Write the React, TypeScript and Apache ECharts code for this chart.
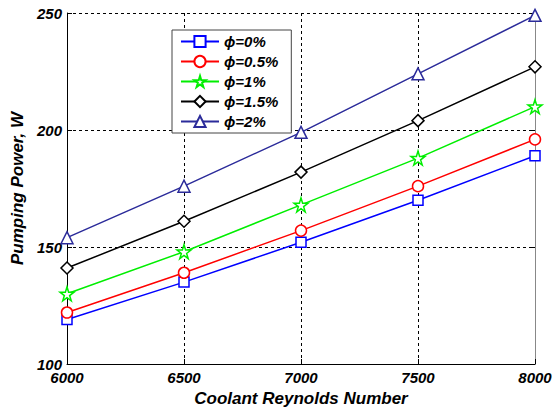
import React, { useEffect, useRef } from "react";
import * as echarts from "echarts";

const reynolds = [6000, 6500, 7000, 7500, 8000];
const phi0 = [119, 135, 152, 170, 189];
const phi05 = [122, 139, 157, 176, 196];
const phi1 = [130, 148, 168, 188, 210];
const phi15 = [141, 161, 182, 204, 227];
const phi2 = [154, 176, 199, 224, 249];
const seriesNames = ["ϕ=0%", "ϕ=0.5%", "ϕ=1%", "ϕ=1.5%", "ϕ=2%"];
const yTicks = { min: 100, max: 250, interval: 50 };
const xTicks = { min: 6000, max: 8000, interval: 500 };

const STAR =
  "path://M50,0 L61,35 L98,35 L68,57 L79,91 L50,70 L21,91 L32,57 L2,35 L39,35 Z";

export default function App() {
  const ref = useRef<HTMLDivElement>(null);
  useEffect(() => {
    if (!ref.current) return;
    const chart = echarts.init(ref.current, undefined, { renderer: "svg" });
    const font = {
      fontFamily: "Liberation Sans, Arial, sans-serif",
      fontWeight: "bold" as const,
      fontStyle: "italic" as const,
      color: "#000",
    };
    const colors = ["#0000ff", "#ff0000", "#00ee00", "#000000", "#2b2b9a"];
    const symbols = ["rect", "circle", STAR, "diamond", "triangle"];
    const sizes = [10, 11, 14, 12, 12];
    const datas = [phi0, phi05, phi1, phi15, phi2];
    chart.setOption({
      animation: false,
      backgroundColor: "#fff",
      grid: { left: 67, right: 18, top: 13, bottom: 43, outerBoundsMode: "none" },
      legend: {
        left: 172,
        top: 30,
        orient: "vertical",
        itemWidth: 38,
        itemHeight: 14,
        itemGap: 5,
        padding: [4, 13, 4, 8],
        backgroundColor: "#fff",
        borderColor: "#444",
        borderWidth: 1,
        borderRadius: 0,
        textStyle: { ...font, fontSize: 15 },
        data: seriesNames,
      },
      xAxis: {
        type: "value",
        min: xTicks.min,
        max: xTicks.max,
        interval: xTicks.interval,
        name: "Coolant Reynolds Number",
        nameLocation: "middle",
        nameGap: 25,
        nameTextStyle: { ...font, fontSize: 17 },
        axisLine: { lineStyle: { color: "#000", width: 1 } },
        axisTick: { inside: true, length: 5, lineStyle: { color: "#000" } },
        axisLabel: { ...font, fontSize: 15, margin: 6, formatter: (v: number) => String(v) },
        splitLine: { show: true, lineStyle: { color: "#000", type: [3, 3], width: 1 } },
      },
      yAxis: [
        {
          type: "value",
          min: yTicks.min,
          max: yTicks.max,
          interval: yTicks.interval,
          name: "Pumping Power, W",
          nameLocation: "middle",
          nameGap: 40,
          nameTextStyle: { ...font, fontSize: 17 },
          axisLine: { show: true, lineStyle: { color: "#000", width: 1 } },
          axisTick: { show: true, inside: true, length: 5, lineStyle: { color: "#000" } },
          axisLabel: { ...font, fontSize: 15, margin: 5, formatter: (v: number) => String(v) },
          splitLine: { show: true, lineStyle: { color: "#000", type: [3, 3], width: 1 } },
        },
        {
          type: "value",
          position: "right",
          min: yTicks.min,
          max: yTicks.max,
          interval: yTicks.interval,
          axisLine: { show: true, lineStyle: { color: "#888", width: 1 } },
          axisTick: { show: true, inside: true, length: 5, lineStyle: { color: "#000" } },
          axisLabel: { show: false },
          splitLine: { show: false },
        },
      ],
      series: datas.map((d, i) => ({
        name: seriesNames[i],
        type: "line",
        data: reynolds.map((x, j) => [x, d[j]]),
        symbol: symbols[i],
        symbolSize: sizes[i],
        showAllSymbol: true,
        lineStyle: { color: colors[i], width: 1.5 },
        itemStyle: { color: "#fff", borderColor: colors[i], borderWidth: 1.5 },
        emphasis: { disabled: true },
        z: 2 + i,
      })),
    });
    return () => chart.dispose();
  }, []);
  return (
    <div
      ref={ref}
      style={{ position: "absolute", left: 0, top: 0, width: 553, height: 407 }}
    />
  );
}
